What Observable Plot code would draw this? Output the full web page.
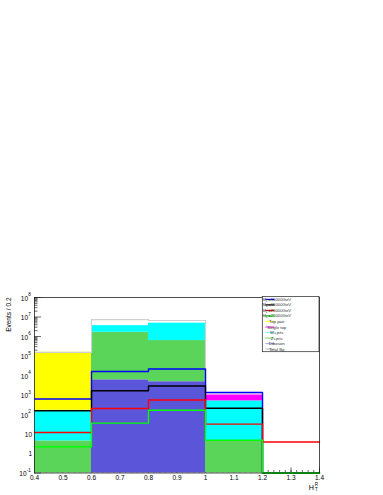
<!DOCTYPE html>
<html><head><meta charset="utf-8">
<script src="https://cdn.jsdelivr.net/npm/d3@7"></script>
<script src="https://cdn.jsdelivr.net/npm/@observablehq/plot@0.6"></script>
<style>body{margin:0;background:#fff}</style>
</head><body><div id="chart"></div>
<script>
// ---- data ----
const binEdges  = [0.4, 0.6, 0.8, 1.0, 1.2, 1.4];
const diboson   = [0, 6000, 4800, 0, 0];
const zjets     = [4.4, 1.64e6, 6.15e5, 4.4, 0];
const wjets     = [160, 1.95e6, 4.2e6, 495, 0];
const singleTop = [0, 0, 0, 500, 0];
const topPair   = [1.55e5, 0, 0, 0, 0];
const totalBg   = [1.55e5, 7.4e6, 6.6e6, 1300, 0];
const sigM10000 = [620, 16000, 21500, 1350, 0];
const sigM15000 = [155, 1650, 2900, 210, 0];
const sigM20000 = [12, 204, 550, 32, 3.9];
const sigM25000 = [2.2, 36, 166, 4.8, 0];

const xTickValues = [0.4, 0.5, 0.6, 0.7, 0.8, 0.9, 1.0, 1.1, 1.2, 1.3, 1.4];
const xTickLabels = ["0.4", "0.5", "0.6", "0.7", "0.8", "0.9", "1", "1.1", "1.2", "1.3", "1.4"];
const yTickValues = [0.1, 1, 10, 1e2, 1e3, 1e4, 1e5, 1e6, 1e7, 1e8];
const yTickBases  = ["10", "1", "10", "10", "10", "10", "10", "10", "10", "10"];
const yTickExps   = ["-1", "", "", "2", "3", "4", "5", "6", "7", "8"];

const legendLabels = ["=10000GeV", "=15000GeV", "=20000GeV", "=25000GeV", "Top pair", "Single top", "W+jets", "Z+jets", "Diboson", "Total Bg"];
const legendIsSignal = [true, true, true, true, false, false, false, false, false, false];

// ---- styles ----
const stackLayers = [
  {values: diboson,   color: "#5b55d9"},
  {values: zjets,     color: "#5ad55a"},
  {values: wjets,     color: "#00ffff"},
  {values: singleTop, color: "#ff00ff"},
  {values: topPair,   color: "#ffff00"}
];
const signalLines = [
  {values: sigM10000, color: "#0000ff"},
  {values: sigM15000, color: "#000000"},
  {values: sigM20000, color: "#ff0000"},
  {values: sigM25000, color: "#00ff00"}
];
const legendColors = ["#0000ff", "#000000", "#ff0000", "#00ff00", "#ffff40", "#ff40ff", "#80ffff", "#80e080", "#b0b0f0", "#c8c8c8"];

const yMin = 0.1;
const W = 383, H = 495, mL = 34, mR = 64, mT = 297, mB = 22.5;
const frameW = W - mL - mR, frameH = H - mT - mB;

// stacked rectangles
const rects = [];
const cum = [0, 0, 0, 0, 0];
stackLayers.forEach(layer => {
  layer.values.forEach((v, i) => {
    const lo = cum[i], hi = cum[i] + v;
    cum[i] = hi;
    if (v > 0) rects.push({x1: binEdges[i], x2: binEdges[i + 1], y1: Math.max(lo, yMin), y2: Math.max(hi, yMin), fill: layer.color});
  });
});

const stepData = vals => binEdges.map((x, i) => ({x, y: Math.max(vals[Math.min(i, vals.length - 1)], yMin)}));

// minor ticks
const yMinor = [];
for (let k = -1; k < 8; k++) for (let m = 2; m <= 9; m++) yMinor.push(m * Math.pow(10, k));
const xMinor = [];
for (let i = 0; i <= 50; i++) xMinor.push(0.4 + i * 0.02);

const expGroup = yTickValues.map((v, i) => ({v, b: yTickBases[i], e: yTickExps[i]}));
const gDigit = expGroup.filter(d => d.e.length === 1);
const gNeg = expGroup.filter(d => d.e.length === 2);
const gPlain = expGroup.filter(d => d.e === "");

const plot = Plot.plot({
  width: W, height: H,
  marginLeft: mL, marginRight: mR, marginTop: mT, marginBottom: mB,
  x: {domain: [0.4, 1.4], axis: null},
  y: {type: "log", domain: [yMin, 1e8], axis: null},
  style: {fontFamily: "'Liberation Sans', Arial, sans-serif", background: "white", color: "black"},
  marks: [
    Plot.tickY(yTickValues, {y: d => d, stroke: "black", strokeWidth: 0.6, insetRight: frameW - 7}),
    Plot.tickY(yMinor, {y: d => d, stroke: "black", strokeWidth: 0.6, insetRight: frameW - 3.5}),
    Plot.tickX(xTickValues, {x: d => d, stroke: "black", strokeWidth: 0.6, insetTop: frameH - 5}),
    Plot.tickX(xMinor, {x: d => d, stroke: "black", strokeWidth: 0.6, insetTop: frameH - 2.5}),
    Plot.rect(rects, {x1: "x1", x2: "x2", y1: "y1", y2: "y2", fill: "fill"}),
    Plot.line(stepData(totalBg), {x: "x", y: "y", curve: "step-after", stroke: "#cfcfcf", strokeWidth: 1.2}),
    ...signalLines.map(s => Plot.line(stepData(s.values), {x: "x", y: "y", curve: "step-after", stroke: s.color, strokeWidth: 1.4})),
    Plot.frame({stroke: "#222", strokeWidth: 0.8}),
    // y tick labels
    Plot.text(gDigit, {y: "v", text: "b", frameAnchor: "left", textAnchor: "end", dx: -6.5, dy: 1, fontSize: 6.5}),
    Plot.text(gDigit, {y: "v", text: "e", frameAnchor: "left", textAnchor: "start", dx: -6.3, dy: -2.5, fontSize: 4.6}),
    Plot.text(gNeg, {y: "v", text: "b", frameAnchor: "left", textAnchor: "end", dx: -7.9, dy: 1, fontSize: 6.5}),
    Plot.text(gNeg, {y: "v", text: "e", frameAnchor: "left", textAnchor: "start", dx: -7.8, dy: -2.5, fontSize: 4.6}),
    Plot.text(gPlain, {y: "v", text: "b", frameAnchor: "left", textAnchor: "end", dx: -2.4, dy: 0.5, fontSize: 6.5}),
    // x tick labels
    Plot.text(xTickValues.map((v, i) => ({v, t: xTickLabels[i]})), {x: "v", text: "t", frameAnchor: "bottom", lineAnchor: "top", dy: 2.5, fontSize: 6.5}),
    // axis titles
    Plot.text(["Events / 0.2"], {frameAnchor: "top-left", rotate: -90, textAnchor: "end", dx: -28, fontSize: 6.5}),
    Plot.text(["H"], {frameAnchor: "bottom-right", textAnchor: "end", lineAnchor: "bottom", dx: -5.5, dy: 16.5, fontSize: 7.2}),
    Plot.text(["R"], {frameAnchor: "bottom-right", textAnchor: "start", lineAnchor: "bottom", dx: -4.7, dy: 12.8, fontSize: 4.5}),
    Plot.text(["T"], {frameAnchor: "bottom-right", textAnchor: "start", lineAnchor: "bottom", dx: -4.5, dy: 17.5, fontSize: 4.5})
  ]
});

// legend
const svg = d3.select(plot);
const lg = svg.append("g").attr("font-family", "'Liberation Sans', Arial, sans-serif");
const lx = 262.3, ly = 296.6, lw = W - mR - lx, lh = 351.7 - ly;
lg.append("rect").attr("x", lx).attr("y", ly).attr("width", lw).attr("height", lh)
  .attr("fill", "white").attr("stroke", "#222").attr("stroke-width", 0.7);
legendLabels.forEach((lab, i) => {
  const y = 299.4 + i * 5.52;
  lg.append("line").attr("x1", 265.3).attr("x2", 274.5).attr("y1", y).attr("y2", y)
    .attr("stroke", legendColors[i]).attr("stroke-width", 1.2);
  const t = lg.append("text").attr("x", 276.7).attr("y", y + 1.5).attr("font-size", 4.3).attr("fill", "#333");
  if (legendIsSignal[i]) {
    t.append("tspan").text("M");
    t.append("tspan").attr("font-size", 3).attr("dy", 1).text("Z'");
    t.append("tspan").attr("dy", -1).text(lab);
  } else {
    t.text(lab);
  }
});

document.getElementById("chart").appendChild(plot);
</script>
</body></html>
